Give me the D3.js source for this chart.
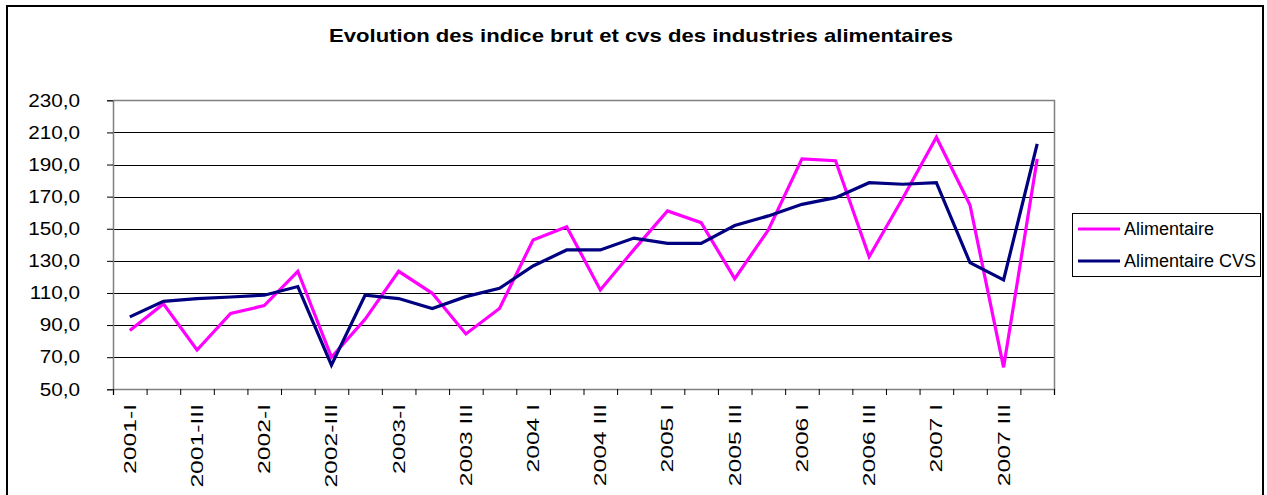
<!DOCTYPE html>
<html><head><meta charset="utf-8">
<script src="https://cdn.jsdelivr.net/npm/d3@7"></script>
<style>
html,body{margin:0;padding:0;background:#fff;}
svg{display:block;font-family:"Liberation Sans",Arial,sans-serif;}
</style></head>
<body>
<svg id="c" width="1267" height="495"></svg>
<script>
const categories = ["2001-I","2001-II","2001-III","2001-IV","2002-I","2002-II","2002-III","2002-IV",
  "2003-I","2003-II","2003 III","2003 IV","2004 I","2004 II","2004 III","2004 IV",
  "2005 I","2005 II","2005 III","2005 IV","2006 I","2006 II","2006 III","2006 IV",
  "2007 I","2007 II","2007 III","2007 IV"];
const alimentaire = [86.6,103.2,74.5,97.3,102.1,123.5,70.0,93.6,123.5,109.8,84.5,100.3,143.0,151.3,111.9,137.0,
  161.1,153.8,118.9,149.2,193.5,192.4,132.6,169.0,207.0,164.8,63.7,193.5];
const alimentaireCVS = [95.1,104.8,106.5,107.5,108.6,114.0,65.0,108.6,106.5,100.3,107.7,112.9,126.8,136.8,136.8,144.2,
  140.9,140.9,152.0,158.0,165.2,169.4,178.7,177.7,178.7,128.9,118.1,202.8];
const yTicks = [50,70,90,110,130,150,170,190,210,230];
const seriesNames = ["Alimentaire","Alimentaire CVS"];
const seriesColors = ["#FF00FF","#000080"];
const title = "Evolution des indice brut et cvs des industries alimentaires";

const svg = d3.select("#c");
const L = 113, R = 1054, T = 100.3, B = 389.3;

function stretch(sel, f){
  sel.each(function(){const n=this.getComputedTextLength();
    d3.select(this).attr("textLength",n*f).attr("lengthAdjust","spacingAndGlyphs");});
}

// outer border
svg.append("rect").attr("x",7).attr("y",6).attr("width",1256).attr("height",500)
  .attr("fill","none").attr("stroke","#000").attr("stroke-width",2);

// title
svg.append("text").attr("x",641).attr("y",42).attr("text-anchor","middle")
  .attr("font-size",19).attr("font-weight","bold").attr("textLength",624)
  .attr("lengthAdjust","spacingAndGlyphs").text(title);

const x = d3.scaleBand().domain(categories).range([L,R]).padding(0);
const xi = d3.scaleLinear().domain([0,categories.length]).range([L,R]);
const y = d3.scaleLinear().domain([50,230]).range([B,T]);

// gridlines
svg.append("g").selectAll("line").data(yTicks.slice(1)).join("line")
  .attr("x1",L).attr("x2",R).attr("y1",d=>Math.round(y(d))+0.5).attr("y2",d=>Math.round(y(d))+0.5)
  .attr("stroke","#000").attr("stroke-width",1);
// plot border top/right
svg.append("path").attr("d",`M${L},${Math.round(T)+0.5}H${R+0.5}V${Math.round(B)}`)
  .attr("fill","none").attr("stroke","#808080").attr("stroke-width",1.5);

// y axis
const yAxis = svg.append("g").attr("transform",`translate(${L},0)`)
  .call(d3.axisLeft(y).tickValues(yTicks).tickSize(6).tickPadding(27)
    .tickFormat(d=>d3.format(".1f")(d).replace(".",",")));
yAxis.select(".domain").attr("stroke","#808080").attr("stroke-width",1.5);
yAxis.selectAll(".tick line").attr("stroke","#000");
yAxis.selectAll("text").attr("font-size",18).attr("fill","#000")
  .attr("font-family","Liberation Sans, Arial, sans-serif");
stretch(yAxis.selectAll("text"), 1.15);

// x axis ticks
const xAxis = svg.append("g").attr("transform",`translate(0,${Math.round(B)})`)
  .call(d3.axisBottom(xi).tickValues(d3.range(categories.length+1)).tickSize(6).tickFormat(""));
xAxis.select(".domain").attr("stroke","#808080").attr("stroke-width",1.5);
xAxis.selectAll(".tick line").attr("stroke","#000");

// x labels (every other)
const lab = svg.append("g").selectAll("text").data(categories.filter((d,i)=>i%2===0)).join("text")
  .attr("transform",d=>`translate(${x(d)+x.bandwidth()/2},404) rotate(-90)`)
  .attr("text-anchor","end").attr("dy","0.35em").attr("font-size",17).text(d=>d);
stretch(lab, 1.45);

// lines
const line = d3.line().x((d,i)=>x(categories[i])+x.bandwidth()/2).y(d=>y(d));
[alimentaire, alimentaireCVS].forEach((s,k)=>{
  svg.append("path").datum(s).attr("d",line).attr("fill","none")
    .attr("stroke",seriesColors[k]).attr("stroke-width",3.2).attr("stroke-linejoin","miter");
});

// legend
const lg = svg.append("g");
lg.append("rect").attr("x",1072.5).attr("y",213.5).attr("width",188).attr("height",63)
  .attr("fill","#fff").attr("stroke","#000").attr("stroke-width",1);
seriesNames.forEach((n,k)=>{
  const yy = 229 + k*32;
  lg.append("line").attr("x1",1078).attr("x2",1120).attr("y1",yy).attr("y2",yy)
    .attr("stroke",seriesColors[k]).attr("stroke-width",3.2);
  lg.append("text").attr("x",1124).attr("y",yy).attr("dy","0.35em").attr("font-size",18).text(n);
});
</script>
</body></html>
